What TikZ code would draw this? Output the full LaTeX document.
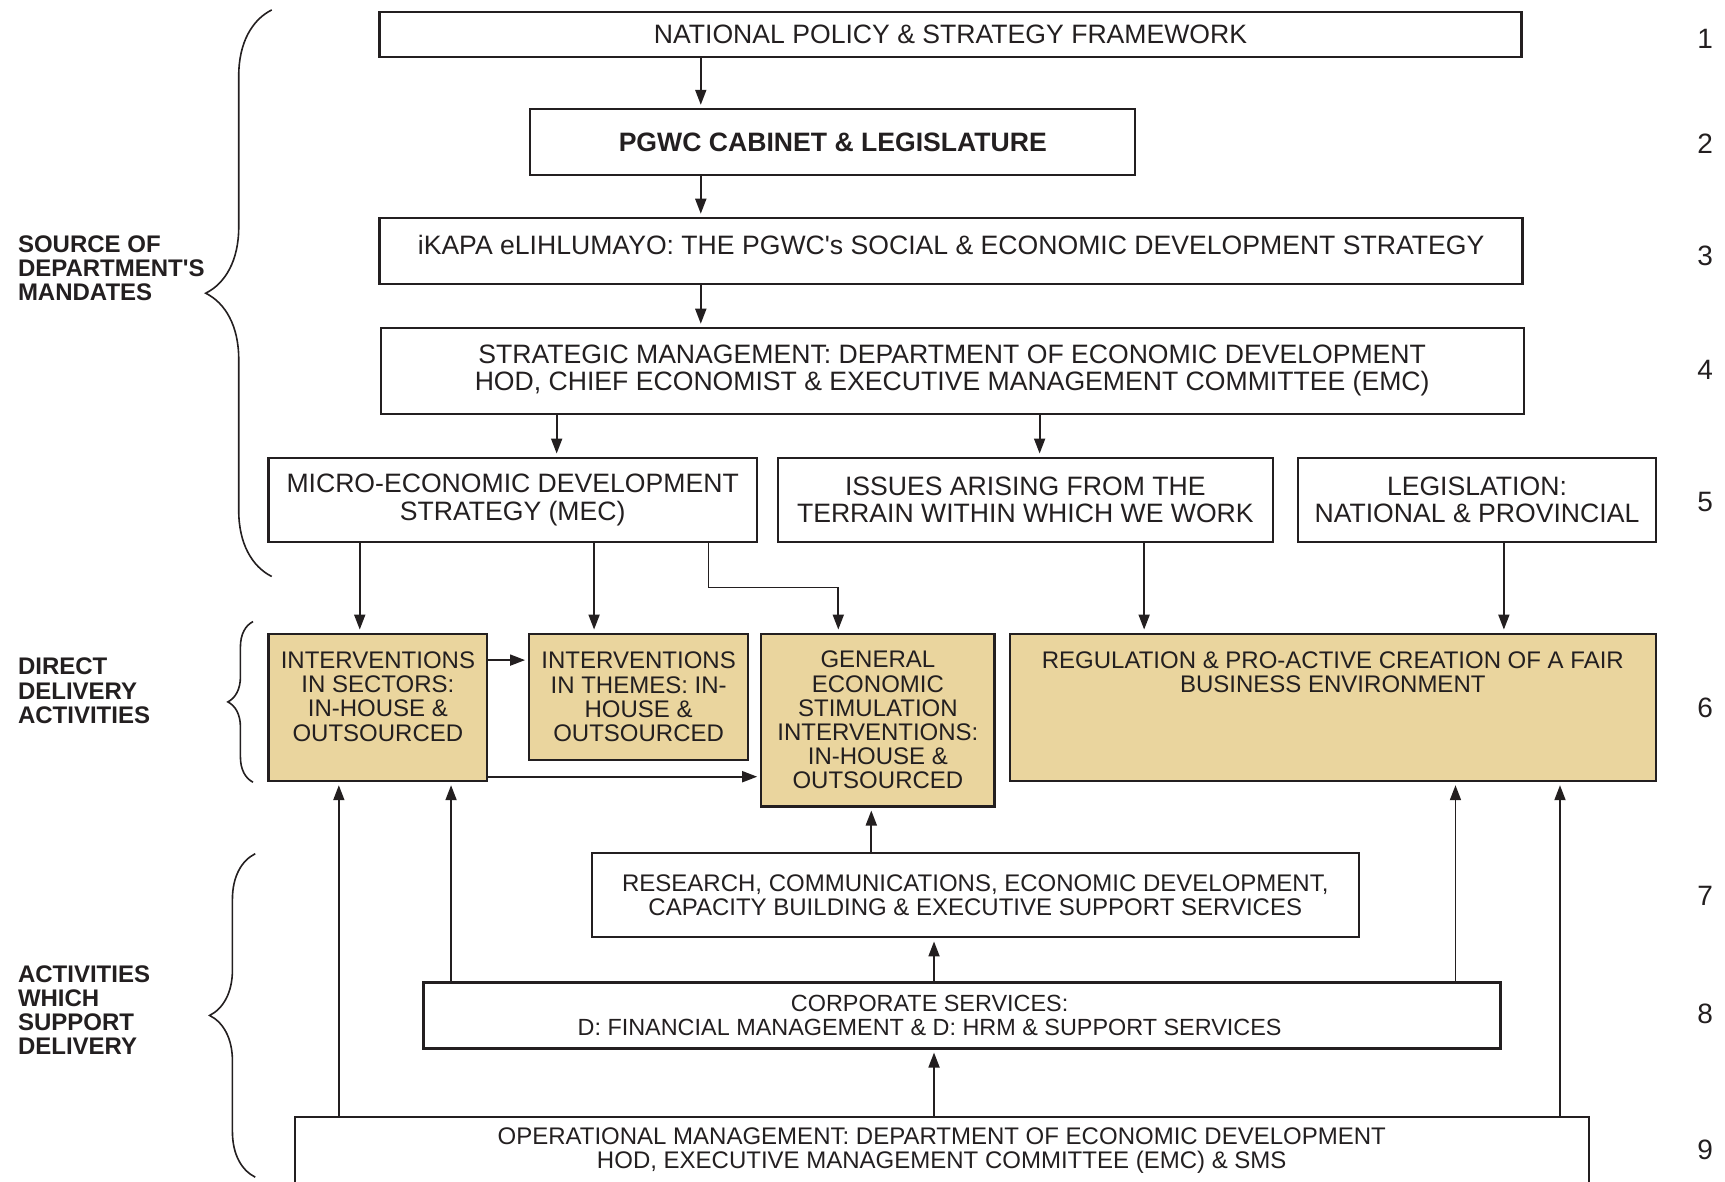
\documentclass[tikz,border=0pt]{standalone}
\usepackage{fontspec}
\setmainfont{Liberation Sans}
\usepackage{xcolor}
\usepackage{tikz}
\usetikzlibrary{positioning, arrows.meta, calc, decorations.pathreplacing}
\definecolor{deliverytan}{RGB}{234,213,158}
\definecolor{inkline}{RGB}{35,31,32}
\tikzset{
  mandatebox/.style={
    rectangle,
    draw=inkline,
    line width=1.1pt,
    align=center,
    text=inkline,
    inner sep=2pt,
    font=\fontsize{13.3}{13.7}\selectfont
  },
  deliverybox/.style={
    mandatebox,
    fill=deliverytan,
    font=\fontsize{12}{12.1}\selectfont
  },
  supportbox/.style={
    mandatebox,
    font=\fontsize{12}{12.1}\selectfont
  },
  boxtext/.style={
    align=center,
    text=inkline,
    inner sep=0pt,
    font=\fontsize{12}{12.1}\selectfont
  },
  flowarrow/.style={
    -{Triangle[length=7.5pt,width=5.5pt]},
    line width=0.9pt,
    draw=inkline,
    shorten >=1.5pt
  },
  sidelabel/.style={
    anchor=west,
    align=left,
    text=inkline,
    inner sep=0pt,
    font=\bfseries\fontsize{12}{12.1}\selectfont
  },
  rownumber/.style={
    text=inkline,
    inner sep=0pt,
    font=\fontsize{14}{14}\selectfont
  },
  sidebrace/.style={
    decorate,
    draw=inkline,
    line width=0.8pt
  }
}

\begin{document}
\begin{tikzpicture}[x=0.55pt, y=-0.55pt]
  \useasboundingbox (0,0) rectangle (1568,1074);
  \clip (0,0) rectangle (1568,1074);

  % source of mandates
  \node[mandatebox, minimum width=570.9pt, minimum height=22.55pt] (nat) at (864,31.5)
    {NATIONAL POLICY \& STRATEGY FRAMEWORK};
  \node[mandatebox, font=\bfseries\fontsize{13.3}{13.7}\selectfont, minimum width=302.5pt, minimum height=33pt] (cab) at (757,129)
    {PGWC CABINET \& LEGISLATURE};
  \node[mandatebox, text height=10pt, text depth=6pt, minimum width=571.45pt, minimum height=33pt] (ikapa) at (864.5,228)
    {iKAPA eLIHLUMAYO: THE PGWC\textquotesingle s SOCIAL \& ECONOMIC DEVELOPMENT STRATEGY};
  \node[mandatebox, minimum width=571.45pt, minimum height=42.9pt] (strat) at (865.5,337)
    {STRATEGIC MANAGEMENT: DEPARTMENT OF ECONOMIC DEVELOPMENT\\HOD, CHIEF ECONOMIST \& EXECUTIVE MANAGEMENT COMMITTEE (EMC)};
  \node[mandatebox, minimum width=244.2pt, minimum height=42.35pt] (mec) at (466,454.5)
    {MICRO-ECONOMIC DEVELOPMENT\\STRATEGY (MEC)};
  \node[mandatebox, minimum width=247.5pt, minimum height=42.35pt] (issues) at (932,454.5)
    {ISSUES ARISING FROM THE\\TERRAIN WITHIN WHICH WE WORK};
  \node[mandatebox, minimum width=178.75pt, minimum height=42.35pt] (legis) at (1342.5,454.5)
    {LEGISLATION:\\NATIONAL \& PROVINCIAL};

  % direct delivery
  \node[deliverybox, minimum width=109.45pt, minimum height=73.7pt] (sect) at (343.5,643) {};
  \node[boxtext, below=9.4pt of sect.north] (secttext)
    {INTERVENTIONS\\IN SECTORS:\\IN-HOUSE \&\\OUTSOURCED};
  \node[deliverybox, minimum width=109.45pt, minimum height=63.25pt] (them) at (580.5,633.5)
    {INTERVENTIONS\\IN THEMES: IN-\\HOUSE \&\\OUTSOURCED};
  \node[deliverybox, minimum width=116.6pt, minimum height=86.35pt] (gen) at (798,654.5)
    {GENERAL\\ECONOMIC\\STIMULATION\\INTERVENTIONS:\\IN-HOUSE \&\\OUTSOURCED};
  \node[deliverybox, minimum width=322.85pt, minimum height=73.7pt] (reg) at (1211.5,643) {};
  \node[boxtext, below=9.4pt of reg.north] (regtext)
    {REGULATION \& PRO-ACTIVE CREATION OF A FAIR\\BUSINESS ENVIRONMENT};

  % support
  \node[supportbox, minimum width=383.35pt, minimum height=42.35pt] (res) at (886.5,813.5)
    {RESEARCH, COMMUNICATIONS, ECONOMIC DEVELOPMENT,\\CAPACITY BUILDING \& EXECUTIVE SUPPORT SERVICES};
  \node[supportbox, minimum width=538.45pt, minimum height=33pt] (corp) at (874.5,923) {};
  \node[boxtext, font=\fontsize{11.7}{12.1}\selectfont] (corptext) at (corp.center -| 845,0)
    {CORPORATE SERVICES:\\D: FINANCIAL MANAGEMENT \& D: HRM \& SUPPORT SERVICES};
  \node[supportbox, minimum width=646.8pt, minimum height=34.1pt] (ops) at (856,1046)
    {OPERATIONAL MANAGEMENT: DEPARTMENT OF ECONOMIC DEVELOPMENT\\HOD, EXECUTIVE MANAGEMENT COMMITTEE (EMC) \& SMS};

  % side labels and braces
  \node[sidelabel] (mandlabel) at (16,244) {SOURCE OF\\DEPARTMENT\textquotesingle S\\MANDATES};
  \node[sidelabel] (directlabel) at (16,628) {DIRECT\\DELIVERY\\ACTIVITIES};
  \node[sidelabel] (supportlabel) at (16,918) {ACTIVITIES\\WHICH\\SUPPORT\\DELIVERY};
  \draw[sidebrace, decoration={brace, amplitude=33pt}] (247,524) -- (247,9);
  \draw[sidebrace, decoration={brace, amplitude=12.6pt}] (230,711) -- (230,565);
  \draw[sidebrace, decoration={brace, amplitude=22.8pt}] (232,1070) -- (232,776);

  \foreach \n/\y in {1/35, 2/131, 3/233, 4/336, 5/456, 6/643, 7/814, 8/922, 9/1045}
    \node[rownumber] (row\n) at (1550,\y) {\n};

  % downward flow
  \draw[flowarrow] (nat.south -| 637,0) -- (cab.north -| 637,0);
  \draw[flowarrow] (cab.south -| 637,0) -- (ikapa.north -| 637,0);
  \draw[flowarrow] (ikapa.south -| 637,0) -- (strat.north -| 637,0);
  \draw[flowarrow] (strat.south -| 506,0) -- (mec.north -| 506,0);
  \draw[flowarrow] (strat.south -| 945,0) -- (issues.north -| 945,0);
  \draw[flowarrow] (mec.south -| 327,0) -- (sect.north -| 327,0);
  \draw[flowarrow] (mec.south -| 540,0) -- (them.north -| 540,0);
  \coordinate (mecbend) at (644,534);
  \draw[flowarrow] (mec.south -| mecbend) -- (mecbend) -| (gen.north -| 762,0);
  \draw[flowarrow] (issues.south -| 1040,0) -- (reg.north -| 1040,0);
  \draw[flowarrow] (legis.south -| 1367,0) -- (reg.north -| 1367,0);
  \draw[flowarrow] (sect.east |- 0,600) -- (them.west |- 0,600);
  \draw[flowarrow] (sect.east |- 0,706) -- (gen.west |- 0,706);

  % upward support
  \draw[flowarrow] (res.north -| 792,0) -- (gen.south -| 792,0);
  \draw[flowarrow] (corp.north -| 849,0) -- (res.south -| 849,0);
  \draw[flowarrow] (ops.north -| 849,0) -- (corp.south -| 849,0);
  \draw[flowarrow] (ops.north -| 308,0) -- (sect.south -| 308,0);
  \draw[flowarrow] (corp.north -| 410,0) -- (sect.south -| 410,0);
  \draw[flowarrow] (corp.north -| 1323,0) -- (reg.south -| 1323,0);
  \draw[flowarrow] (ops.north -| 1418,0) -- (reg.south -| 1418,0);
\end{tikzpicture}
\end{document}
